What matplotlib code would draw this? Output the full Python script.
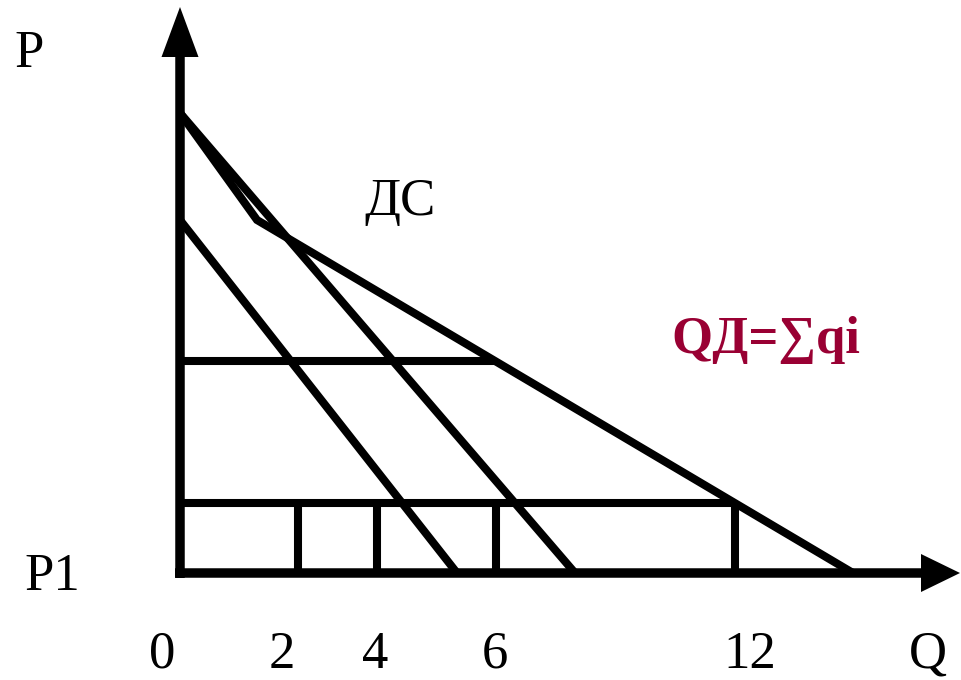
import matplotlib
matplotlib.use("Agg")
import matplotlib.pyplot as plt

# ---- data (schematic units: origin at the axes corner) ----
# individual demand curves (q, p)
demand1_q = [0.0, 27.7]
demand1_p = [35.3, 0.0]
demand2_q = [0.0, 39.5]
demand2_p = [46.0, 0.0]
# market (aggregate) demand, kinked
market_q = [0.0, 7.7, 67.3]
market_p = [46.0, 35.3, 0.0]
# horizontal price levels: (price, q_end)
upper_price, upper_q = 21.25, 31.5
p1_price, p1_q = 7.0, 55.5
# vertical quantity markers at price P1
marker_q = [11.8, 19.7, 31.6, 55.5]

# tick labels along Q axis: label and position
q_tick_labels = ["0", "2", "4", "6", "12", "Q"]
q_tick_pos = [-1.8, 10.2, 19.5, 31.5, 57.0, 74.8]

serif = ["Liberation Serif", "DejaVu Serif"]

fig = plt.figure(figsize=(9.61, 6.80), dpi=100)
ax = fig.add_axes([0, 0, 1, 1])
ax.set_xlim(-18.0, 78.1)
ax.set_ylim(-10.7, 57.3)
ax.axis("off")

lw = 5.8
kw = dict(color="black", lw=lw, solid_capstyle="butt", solid_joinstyle="miter")

ax.plot(demand1_q, demand1_p, **kw)
ax.plot(demand2_q, demand2_p, **kw)
ax.plot(market_q, market_p, **kw)
ax.plot([0, upper_q], [upper_price, upper_price], **kw)
ax.plot([0, p1_q], [p1_price, p1_price], **kw)
for q in marker_q:
    ax.plot([q, q], [0, p1_price], **kw)

# axes arrows
ax.arrow(0.0, -0.5, 0, 57.1, width=0.95, head_width=3.7, head_length=5.0,
         length_includes_head=True, color="black", lw=0)
ax.arrow(-0.5, 0.0, 78.5, 0, width=0.95, head_width=3.8, head_length=3.9,
         length_includes_head=True, color="black", lw=0)

fs = 38
for lab, x in zip(q_tick_labels, q_tick_pos):
    ax.text(x, -9.5, lab, ha="center", va="baseline", fontsize=fs, family=serif)

ax.text(-15.1, 50.6, "P", ha="center", va="baseline", fontsize=fs, family=serif)
ax.text(-12.8, -1.7, "P1", ha="center", va="baseline", fontsize=fs, family=serif)
ax.text(22.0, 35.8, "ДС", ha="center", va="baseline", fontsize=fs, family=serif)
ax.text(58.6, 22.0, "QД=∑qi", ha="center", va="baseline", fontsize=38,
        family=serif, fontweight="bold", color="#990033")

fig.savefig("out.png", dpi=100)
